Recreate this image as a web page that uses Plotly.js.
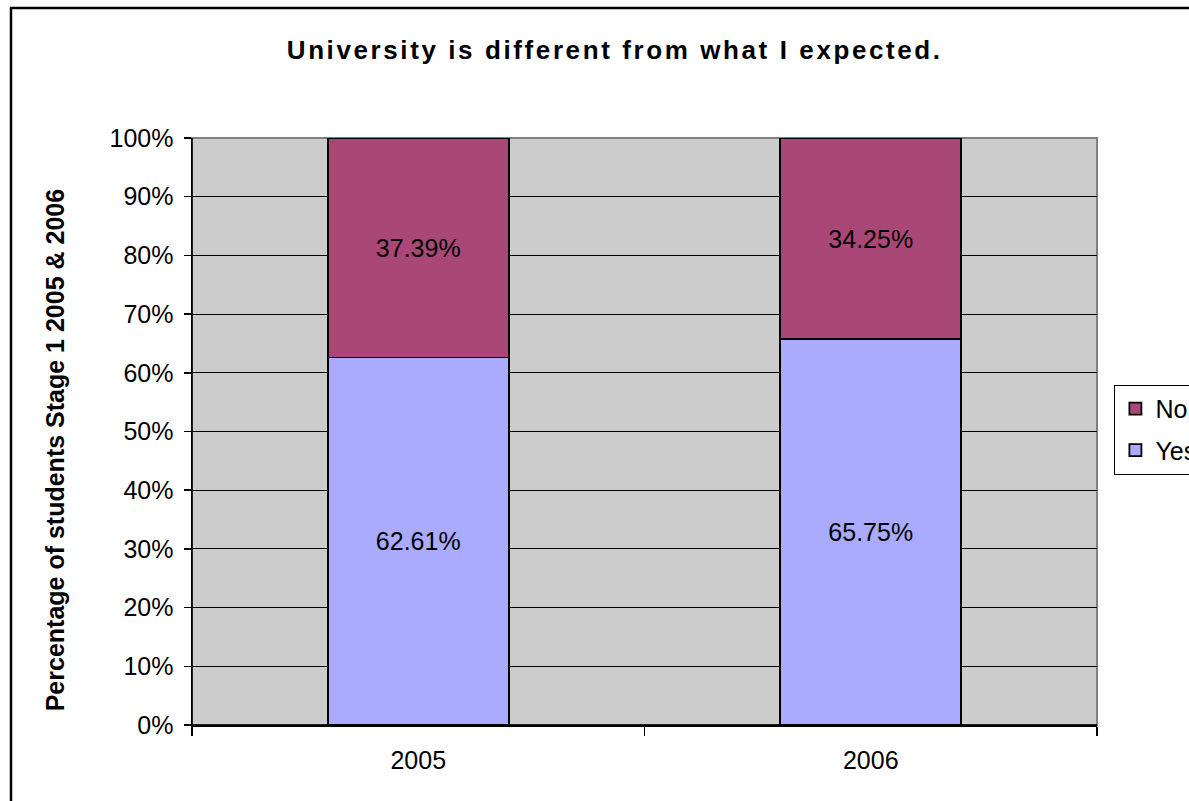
<!DOCTYPE html>
<html>
<head>
<meta charset="utf-8">
<script src="https://cdn.plot.ly/plotly-3.0.1.min.js"></script>
<style>
html,body{margin:0;padding:0;background:#fff;}
#chart{width:1189px;height:801px;}
#chart .gtitle{letter-spacing:2.6px;}
</style>
</head>
<body>
<div id="chart"></div>
<script>
const years = ["2005", "2006"];
const yesValues = [62.61, 65.75];
const noValues = [37.39, 34.25];
const yTickVals = [0,10,20,30,40,50,60,70,80,90,100];
const yTickText = ["0%","10%","20%","30%","40%","50%","60%","70%","80%","90%","100%"];
const yAxisTitle = "Percentage of students Stage 1 2005 & 2006";
const chartTitle = "University is different from what I expected.";

const FONT = "Liberation Sans, Arial, sans-serif";

const traces = [
  {
    type: "bar", name: "Yes", x: years, y: yesValues, legendgroup: "yes", legendrank: 2,
    marker: {color: "#AAAAFF", line: {color: "#000", width: 1.8}},
    text: yesValues.map(v => v.toFixed(2) + "%"),
    textposition: "inside", insidetextanchor: "middle",
    textfont: {family: FONT, size: 25, color: "#000"},
    hoverinfo: "none"
  },
  {
    type: "bar", name: "No", x: years, y: noValues, legendgroup: "no", legendrank: 1,
    marker: {color: "#A94877", line: {color: "#000", width: 1.8}},
    text: noValues.map(v => v.toFixed(2) + "%"),
    textposition: "inside", insidetextanchor: "middle",
    textfont: {family: FONT, size: 25, color: "#000"},
    hoverinfo: "none"
  }
];

const layout = {
  width: 1189, height: 801,
  margin: {l: 192, r: 92, t: 138, b: 76, autoexpand: false},
  paper_bgcolor: "#fff", plot_bgcolor: "#CCCCCC",
  barmode: "stack", bargap: 0.6,
  font: {family: FONT, size: 25, color: "#000"},
  title: {text: chartTitle, font: {family: FONT, size: 26, color: "#000", weight: "bold"}, x: 0.517, xref: "container", y: 0.9376, yanchor: "middle"},
  xaxis: {
    type: "category", showline: true, linecolor: "#000", linewidth: 1.5,
    ticks: "outside", ticklen: 9, tickcolor: "#000", tickwidth: 1.5, tickson: "boundaries",
    ticklabelstandoff: 12,
    tickfont: {family: FONT, size: 25}, showgrid: false, zeroline: false, fixedrange: true
  },
  yaxis: {
    range: [0, 100], tickvals: yTickVals, ticktext: yTickText,
    showline: true, linecolor: "#000", linewidth: 1.5,
    ticks: "outside", ticklen: 7, tickcolor: "#000", tickwidth: 1.5,
    ticklabelstandoff: 5,
    showgrid: true, gridcolor: "#000", gridwidth: 1, zeroline: false,
    tickfont: {family: FONT, size: 25},
    fixedrange: true
  },
  annotations: [
    {text: yAxisTitle, xref: "paper", yref: "paper", x: -0.151, y: 0.4685, xanchor: "center", yanchor: "middle",
     textangle: -90, showarrow: false, font: {family: FONT, size: 25, weight: "bold", color: "#000"}}
  ],
  legend: {
    x: 1.019, xanchor: "left", y: 0.503, yanchor: "middle",
    bordercolor: "#000", borderwidth: 1.2, bgcolor: "#fff",
    font: {family: FONT, size: 25}, traceorder: "grouped",
    tracegroupgap: 6, itemwidth: 30
  },
  showlegend: true,
  shapes: [
    {type: "rect", xref: "paper", yref: "paper", x0: 0, x1: 1, y0: 0, y1: 1, line: {color: "#808080", width: 2}, fillcolor: "rgba(0,0,0,0)", layer: "below"},
    {type: "line", xref: "paper", yref: "paper", x0: 0, x1: 1, y0: 0, y1: 0, line: {color: "#000", width: 1.5}},
    {type: "line", xref: "paper", yref: "paper", x0: 0, x1: 0, y0: 0, y1: 1, line: {color: "#000", width: 1.5}},
    {type: "rect", xref: "paper", yref: "paper", x0: -0.2, x1: 1.3, y0: -0.3, y1: 1.2215, line: {color: "#000", width: 2.5}, fillcolor: "rgba(0,0,0,0)"}
  ]
};

Plotly.newPlot("chart", traces, layout, {displayModeBar: false, staticPlot: true});
</script>
</body>
</html>
